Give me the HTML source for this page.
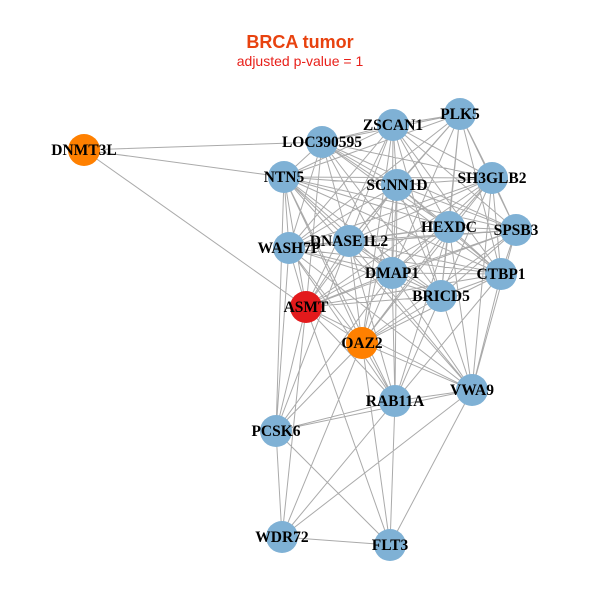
<!DOCTYPE html>
<html><head><style>body{margin:0;background:#fff}svg{display:block}</style></head><body>
<svg width="600" height="600" xmlns="http://www.w3.org/2000/svg">
<rect width="600" height="600" fill="#fff"/>
<text x="300" y="48" text-anchor="middle" font-family="Liberation Sans, sans-serif" font-weight="bold" font-size="18" fill="#e8420f">BRCA tumor</text>
<text x="300" y="66" text-anchor="middle" font-family="Liberation Sans, sans-serif" font-size="14" fill="#e8201a">adjusted p-value = 1</text>
<g stroke="#aaaaaa" stroke-width="1" fill="none">
<path d="M322 142L393 125M322 142L460 114M322 142L284 177M322 142L397 185M322 142L492 178M322 142L449 227M322 142L516 230M322 142L289 248M322 142L349 241M322 142L392 273M322 142L501 274M322 142L441 296
M393 125L460 114M393 125L284 177M393 125L397 185M393 125L492 178M393 125L449 227M393 125L516 230M393 125L289 248M393 125L349 241M393 125L392 273M393 125L501 274M393 125L441 296
M460 114L284 177M460 114L397 185M460 114L492 178M460 114L449 227M460 114L516 230M460 114L289 248M460 114L349 241M460 114L392 273M460 114L501 274M460 114L441 296
M284 177L397 185M284 177L492 178M284 177L449 227M284 177L516 230M284 177L289 248M284 177L349 241M284 177L392 273M284 177L501 274M284 177L441 296
M397 185L492 178M397 185L449 227M397 185L516 230M397 185L289 248M397 185L349 241M397 185L392 273M397 185L501 274M397 185L441 296
M492 178L449 227M492 178L516 230M492 178L289 248M492 178L349 241M492 178L392 273M492 178L501 274M492 178L441 296
M449 227L516 230M449 227L289 248M449 227L349 241M449 227L392 273M449 227L501 274M449 227L441 296
M516 230L289 248M516 230L349 241M516 230L392 273M516 230L501 274M516 230L441 296
M289 248L349 241M289 248L392 273M289 248L501 274M289 248L441 296
M349 241L392 273M349 241L501 274M349 241L441 296
M392 273L501 274M392 273L441 296M501 274L441 296
M84 150L322 142M84 150L284 177M84 150L306 307
M306 307L284 177M306 307L289 248M306 307L349 241M306 307L392 273M306 307L397 185M306 307L449 227M306 307L501 274M306 307L441 296M306 307L492 178M306 307L516 230M306 307L322 142M306 307L393 125M306 307L362 343M306 307L472 390M306 307L276 431M306 307L282 537M306 307L395 401M306 307L390 545
M362 343L289 248M362 343L349 241M362 343L392 273M362 343L397 185M362 343L449 227M362 343L501 274M362 343L441 296M362 343L284 177M362 343L393 125M362 343L492 178M362 343L516 230M362 343L472 390M362 343L395 401M362 343L276 431M362 343L282 537M362 343L390 545
M472 390L501 274M472 390L441 296M472 390L449 227M472 390L392 273M472 390L349 241M472 390L289 248M472 390L516 230M472 390L492 178M472 390L395 401M472 390L276 431M472 390L282 537M472 390L390 545M472 390L284 177
M395 401L392 273M395 401L349 241M395 401L289 248M395 401L449 227M395 401L441 296M395 401L501 274M395 401L276 431M395 401L390 545M395 401L397 185M395 401L284 177M395 401L282 537
M276 431L289 248M276 431L284 177M276 431L349 241M276 431L392 273M276 431L282 537M276 431L390 545M282 537L390 545"/>
</g>
<g stroke="none">
<g fill="#7fb1d5">
<circle cx="322" cy="142" r="16"/><circle cx="393" cy="125" r="16"/><circle cx="460" cy="114" r="16"/><circle cx="284" cy="177" r="16"/><circle cx="397" cy="185" r="16"/><circle cx="492" cy="178" r="16"/><circle cx="449" cy="227" r="16"/><circle cx="516" cy="230" r="16"/><circle cx="289" cy="248" r="16"/><circle cx="349" cy="241" r="16"/><circle cx="392" cy="273" r="16"/><circle cx="501" cy="274" r="16"/><circle cx="441" cy="296" r="16"/><circle cx="472" cy="390" r="16"/><circle cx="395" cy="401" r="16"/><circle cx="276" cy="431" r="16"/><circle cx="282" cy="537" r="16"/><circle cx="390" cy="545" r="16"/>
</g>
<circle cx="84" cy="150" r="16" fill="#ff8000"/>
<circle cx="362" cy="343" r="16" fill="#ff8000"/>
<circle cx="306" cy="307" r="16" fill="#e31a1c"/>
</g>
<g font-family="Liberation Serif, serif" font-weight="bold" font-size="15.5" fill="#000" text-anchor="middle">
<text x="84" y="155">DNMT3L</text>
<text x="322" y="147">LOC390595</text>
<text x="393" y="130">ZSCAN1</text>
<text x="460" y="119">PLK5</text>
<text x="284" y="182">NTN5</text>
<text x="397" y="190">SCNN1D</text>
<text x="492" y="183">SH3GLB2</text>
<text x="449" y="232">HEXDC</text>
<text x="516" y="235">SPSB3</text>
<text x="289" y="253">WASH7P</text>
<text x="349" y="246">DNASE1L2</text>
<text x="392" y="278">DMAP1</text>
<text x="501" y="279">CTBP1</text>
<text x="441" y="301">BRICD5</text>
<text x="306" y="312">ASMT</text>
<text x="362" y="348">OAZ2</text>
<text x="472" y="395">VWA9</text>
<text x="395" y="406">RAB11A</text>
<text x="276" y="436">PCSK6</text>
<text x="282" y="542">WDR72</text>
<text x="390" y="550">FLT3</text>
</g>
</svg>
</body></html>
